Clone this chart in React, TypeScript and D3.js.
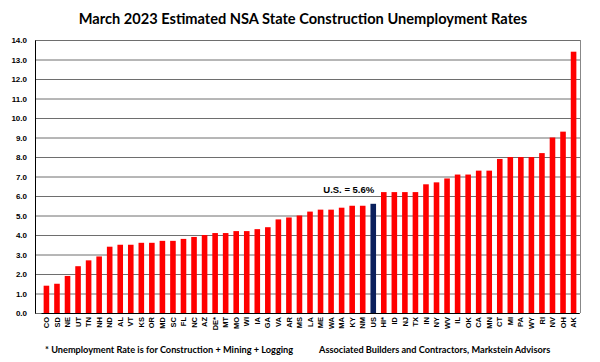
import { useEffect, useRef } from "react";
import * as d3 from "d3";

const states = [
  "CO", "SD", "NE", "UT", "TN", "NH", "ND", "AL", "VT", "KS", "OR", "MD", "SC",
  "FL", "NC", "AZ", "DE*", "MT", "MO", "WI", "IA", "GA", "VA", "AR", "MS", "LA",
  "ME", "WA", "MA", "KY", "NM", "US", "HI*", "ID", "NJ", "TX", "IN", "NY", "WV",
  "IL", "OK", "CA", "MN", "CT", "MI", "PA", "WY", "RI", "NV", "OH", "AK",
];
const rates = [
  1.4, 1.5, 1.9, 2.4, 2.7, 2.9, 3.4, 3.5, 3.5, 3.6, 3.6, 3.7, 3.7,
  3.8, 3.9, 4.0, 4.1, 4.1, 4.2, 4.2, 4.3, 4.4, 4.8, 4.9, 5.0, 5.2,
  5.3, 5.3, 5.4, 5.5, 5.5, 5.6, 6.2, 6.2, 6.2, 6.2, 6.6, 6.7, 6.9,
  7.1, 7.1, 7.3, 7.3, 7.9, 8.0, 8.0, 8.0, 8.2, 9.0, 9.3, 13.4,
];
const yTicks = d3.range(0, 15, 1);

const title = "March 2023 Estimated NSA State Construction Unemployment Rates";
const noteLeft = "* Unemployment Rate is for Construction + Mining + Logging";
const noteRight = "Associated Builders and Contractors, Markstein Advisors";

function App() {
  const ref = useRef<SVGSVGElement>(null);

  useEffect(() => {
    const width = 600;
    const height = 362;
    const margin = { left: 35, top: 40, right: 20, bottom: 49 };
    const inner = {
      width: width - margin.left - margin.right,
      height: height - margin.top - margin.bottom,
    };
    const data = states.map((s, i) => ({ label: s, value: rates[i] }));

    const svg = d3.select(ref.current);
    svg.selectAll("*").remove();

    svg.append("rect").attr("width", width).attr("height", height).attr("fill", "#fff");

    svg
      .append("text")
      .attr("x", 303)
      .attr("y", 24)
      .attr("text-anchor", "middle")
      .attr("font-family", "Lato, 'Open Sans', sans-serif")
      .attr("font-weight", "bold")
      .attr("font-size", 14.6)
      .attr("fill", "#000")
      .text(title);

    const chart = svg
      .append("g")
      .attr("transform", `translate(${margin.left}, ${margin.top})`);

    // bars sit a little right of centre in the reference plot area
    const x = d3
      .scaleBand()
      .domain(states)
      .range([6, inner.width - 1])
      .paddingInner(0.47)
      .paddingOuter(0.25);

    const y = d3.scaleLinear().domain([0, 14]).range([inner.height, 0]);

    // grid lines
    chart
      .selectAll(".grid")
      .data(yTicks)
      .enter()
      .append("line")
      .attr("x1", 0)
      .attr("x2", inner.width)
      .attr("y1", (d) => y(d) + 0.5)
      .attr("y2", (d) => y(d) + 0.5)
      .attr("stroke", "#6e6e6e")
      .attr("stroke-width", 1);

    // right border
    chart
      .append("line")
      .attr("x1", inner.width + 0.5)
      .attr("x2", inner.width + 0.5)
      .attr("y1", 0)
      .attr("y2", inner.height)
      .attr("stroke", "#888")
      .attr("stroke-width", 1);

    // bars
    chart
      .selectAll(".bar")
      .data(data)
      .enter()
      .append("rect")
      .attr("x", (d) => x(d.label)!)
      .attr("y", (d) => y(d.value))
      .attr("width", x.bandwidth())
      .attr("height", (d) => inner.height - y(d.value))
      .attr("fill", (d) => (d.label === "US" ? "#0a1f5c" : "#ff0000"));

    // y axis
    const yAxis = chart
      .append("g")
      .call(
        d3
          .axisLeft(y)
          .tickValues(yTicks)
          .tickSize(0)
          .tickPadding(8)
          .tickFormat(d3.format(".1f"))
      );
    yAxis.select(".domain").attr("stroke", "#000");
    yAxis
      .selectAll("text")
      .attr("font-family", "'Liberation Sans Narrow', 'Liberation Sans', sans-serif")
      .attr("font-weight", "bold")
      .attr("font-size", 8)
      .attr("fill", "#000");

    // x axis
    const xAxis = chart
      .append("g")
      .attr("transform", `translate(0, ${inner.height})`)
      .call(d3.axisBottom(x).tickSize(0).tickPadding(0));
    xAxis.select(".domain").attr("stroke", "#000");
    xAxis
      .selectAll("text")
      .attr("font-family", "'Liberation Sans Narrow', 'Liberation Sans', sans-serif")
      .attr("font-weight", "bold")
      .attr("font-size", 7.5)
      .attr("fill", "#000")
      .attr("text-anchor", "end")
      .attr("dy", "0.35em")
      .attr("transform", "translate(0, 4) rotate(-90)")
      .attr("x", 0)
      .attr("y", 0);

    // US annotation
    const us = data.find((d) => d.label === "US")!;
    chart
      .append("text")
      .attr("x", x("US")! + x.bandwidth() / 2 + 1)
      .attr("y", y(us.value) - 11)
      .attr("text-anchor", "end")
      .attr("font-family", "'Liberation Sans', Arial, sans-serif")
      .attr("font-weight", "bold")
      .attr("font-size", 9.5)
      .attr("fill", "#000")
      .text("U.S. = 5.6%");

    // footnotes
    const foot = svg
      .append("g")
      .attr("font-family", "Lato, 'Open Sans', sans-serif")
      .attr("font-weight", "bold")
      .attr("font-size", 9.2)
      .attr("fill", "#000");
    foot.append("text").attr("x", 45).attr("y", 353).text(noteLeft);
    foot.append("text").attr("x", 319).attr("y", 353).text(noteRight);
  }, []);

  return (
    <svg
      ref={ref}
      width={600}
      height={362}
      style={{ position: "absolute", left: 0, top: 0 }}
    />
  );
}

export default App;
